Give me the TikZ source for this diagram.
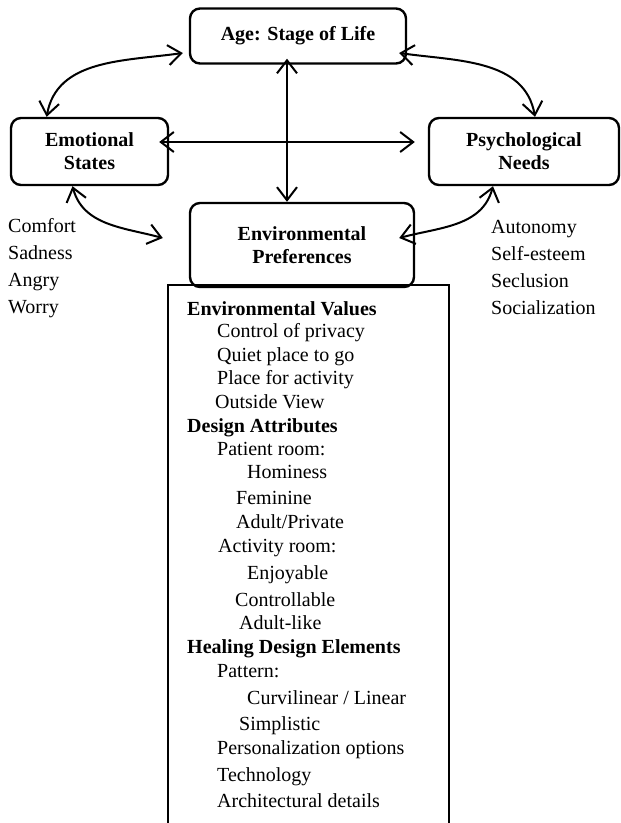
\documentclass[tikz,border=0pt]{standalone}
\usepackage{fontspec}
\setmainfont{Liberation Serif}
\usetikzlibrary{arrows.meta}

\begin{document}
\begin{tikzpicture}[x=1pt, y=-1pt,
  box/.style={draw, line width=2.4pt, rounded corners=10pt, align=center, inner sep=0pt, font=\fontsize{20}{23}\selectfont\bfseries},
  item/.style={anchor=west, inner sep=0pt, text height=14pt, text depth=4pt, font=\fontsize{20}{23}\selectfont},
  link/.style={line width=2pt, {Straight Barb[length=13pt,width=20pt]}-{Straight Barb[length=13pt,width=20pt]}}]
\useasboundingbox (0,0) rectangle (621,823);
\draw[line width=1.4pt] (168,823) -- (168,285) -- (449,285) -- (449,823);
\node[box, minimum width=216pt, minimum height=55pt] (age) at (298,36) {Age: Stage of Life};
\node[box, minimum width=157pt, minimum height=67pt] (emo) at (89.5,151.5) {Emotional\\States};
\node[box, minimum width=190pt, minimum height=67pt] (psy) at (524,151.5) {Psychological\\Needs};
\node[box, minimum width=224pt, minimum height=84pt] (env) at (302,245) {Environmental\\Preferences};
\node[item] (comfort) at (8,227) {Comfort};
\node[item] (sadness) at (8,254) {Sadness};
\node[item] (angry) at (8,281) {Angry};
\node[item] (worry) at (8,308) {Worry};
\node[item] (autonomy) at (491,228) {Autonomy};
\node[item] (esteem) at (491,255) {Self-esteem};
\node[item] (seclusion) at (491,282) {Seclusion};
\node[item] (social) at (491,309) {Socialization};
\node[item] (values) at (187,310) {\textbf{Environmental Values}};
\node[item] (privacy) at (217,332) {Control of privacy};
\node[item] (quiet) at (217,356) {Quiet place to go};
\node[item] (activity) at (217,379) {Place for activity};
\node[item] (view) at (215,403) {Outside View};
\node[item] (attributes) at (187,427) {\textbf{Design Attributes}};
\node[item] (patient) at (217,450) {Patient room:};
\node[item] (hominess) at (247,473) {Hominess};
\node[item] (feminine) at (236,499) {Feminine};
\node[item] (private) at (236,523) {Adult/Private};
\node[item] (actroom) at (218,547) {Activity room:};
\node[item] (enjoyable) at (247,574) {Enjoyable};
\node[item] (controllable) at (235,601) {Controllable};
\node[item] (adultlike) at (239,624) {Adult-like};
\node[item] (healing) at (187,648) {\textbf{Healing Design Elements}};
\node[item] (pattern) at (217,672) {Pattern:};
\node[item] (curvilinear) at (247,699) {Curvilinear / Linear};
\node[item] (simplistic) at (239,725) {Simplistic};
\node[item] (personal) at (217,749) {Personalization options};
\node[item] (technology) at (217,776) {Technology};
\node[item] (details) at (217,802) {Architectural details};
\draw[link] ([shift={(-6pt,-17pt)}]age.west) to[out=188, in=80] (emo.141);
\draw[link] ([shift={(-8pt,-17pt)}]age.east) to[out=-8, in=100] ([xshift=11pt]psy.north);
\draw[link] ([shift={(-10pt,9.5pt)}]emo.east) -- ([shift={(-13pt,9.5pt)}]psy.west);
\draw[link] ([shift={(-11pt,6pt)}]age.south) -- ([xshift=-15pt]env.north);
\draw[link] ([xshift=-17pt]emo.south) to[out=-75, in=165] ([shift={(-26pt,7pt)}]env.west);
\draw[link] ([xshift=-31pt]psy.south) to[out=-105, in=15] ([shift={(-16pt,7pt)}]env.east);
\end{tikzpicture}
\end{document}
